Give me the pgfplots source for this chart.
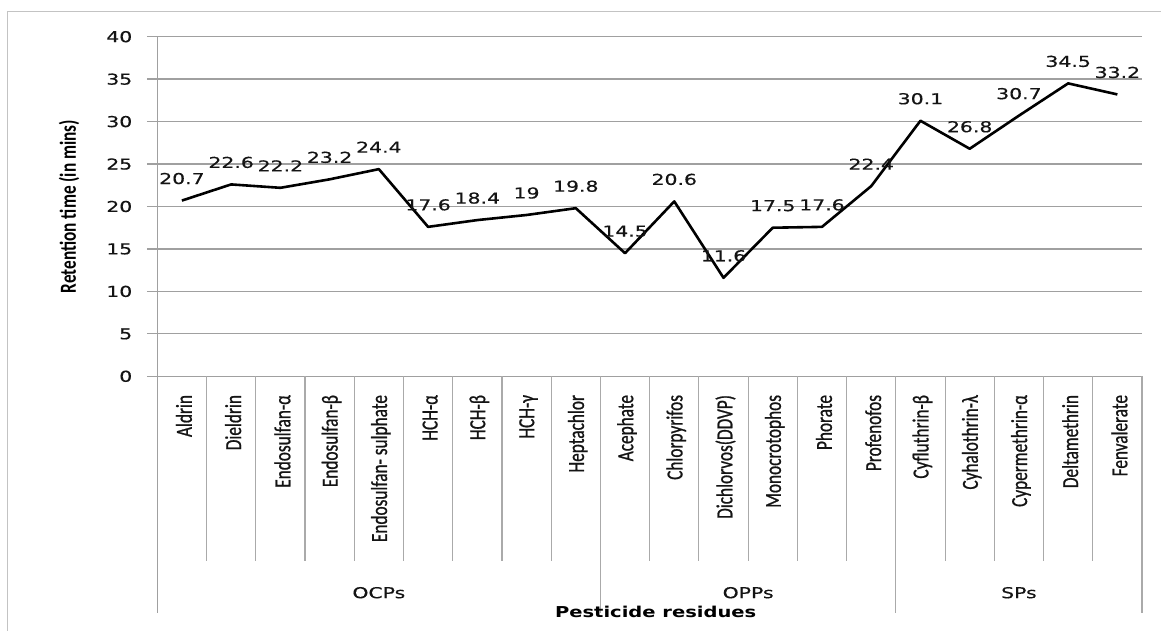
\documentclass[border=0pt]{standalone}
\usepackage{fontspec}
\usepackage{pgfplots}
\usepackage{pgfplotstable}
\pgfplotsset{compat=1.18}
\newfontfamily\widefont[FakeStretch=1.36,FakeBold=0.4]{DejaVu Sans}
\newfontfamily\widebold[FakeStretch=1.3]{DejaVu Sans Bold}
\newfontfamily\narrowfont[FakeStretch=0.75,FakeBold=0.8]{Carlito}
\newfontfamily\narrowbold[FakeStretch=0.75]{Carlito Bold}
\newcommand\tickf{\widefont\fontsize{15pt}{18pt}\selectfont}
\newcommand\titf{\widebold\fontsize{15pt}{18pt}\selectfont}
\newcommand\catf{\narrowfont\fontsize{23pt}{26pt}\selectfont}
\newcommand\ytitf{\narrowbold\fontsize{23pt}{26pt}\selectfont}
\definecolor{gridgray}{RGB}{160,160,160}
\definecolor{sepgray}{RGB}{170,170,170}
\definecolor{bordergray}{RGB}{195,195,195}
\definecolor{txt}{RGB}{20,20,20}

\pgfplotstableread{
x y
0.5 20.7
1.5 22.6
2.5 22.2
3.5 23.2
4.5 24.4
5.5 17.6
6.5 18.4
7.5 19
8.5 19.8
9.5 14.5
10.5 20.6
11.5 11.6
12.5 17.5
13.5 17.6
14.5 22.4
15.5 30.1
16.5 26.8
17.5 30.7
18.5 34.5
19.5 33.2
}\datatable

\begin{document}
\begin{tikzpicture}
\path[use as bounding box] (0,0) rectangle (1161pt,631pt);
% outer frame (left and top edges visible)
\draw[bordergray, line width=1.5pt] (7.7pt,0) -- (7.7pt,619.3pt) -- (1165pt,619.3pt);
\begin{axis}[
  at={(157.3pt,254.7pt)}, anchor=south west, scale only axis,
  width=984.7pt, height=339.6pt,
  xmin=0, xmax=20, ymin=0, ymax=40,
  axis line style={draw=none},
  clip=false,
  xtick=\empty,
  ytick={0,5,...,40},
  ytick pos=left,
  tick align=outside,
  major tick length=10.5pt,
  ytick style={color=gridgray, line width=1.3pt},
  ymajorgrids,
  grid style={color=gridgray, line width=1.3pt},
  yticklabel style={font=\tickf, text=txt, xshift=-11pt},
  /pgf/number format/assume math mode=true,
  nodes near coords,
  every node near coord/.append style={font=\tickf, text=txt, anchor=center, yshift=22pt, inner sep=0pt},
]
\addplot[black, line width=2.6pt, line join=round, mark=none] table[x=x,y=y] {\datatable};

% left axis line and separators
\draw[gridgray, line width=1.3pt] (axis cs:0,40) -- (axis cs:0,0) -- ++(0,-236.7pt);
\foreach \i in {1,2,3,4,5,6,7,8,10,11,12,13,14,16,17,18,19}{
  \edef\tmp{\noexpand\draw[sepgray, line width=1.1pt] (axis cs:\i,0) -- ++(0,-184.7pt);}\tmp
}
\draw[sepgray, line width=1.1pt] (axis cs:9,0) -- ++(0,-236.7pt);
\draw[sepgray, line width=1.1pt] (axis cs:15,0) -- ++(0,-236.7pt);
\draw[sepgray, line width=1.1pt] (axis cs:20,0) -- ++(0,-236.7pt);

% category labels
\node[yshift=-18.5pt, xshift=2pt, rotate=90, anchor=east, inner sep=0pt, font=\catf, text=txt] at (axis cs:0.5,0) {Aldrin};
\node[yshift=-18.5pt, xshift=2pt, rotate=90, anchor=east, inner sep=0pt, font=\catf, text=txt] at (axis cs:1.5,0) {Dieldrin};
\node[yshift=-18.5pt, xshift=2pt, rotate=90, anchor=east, inner sep=0pt, font=\catf, text=txt] at (axis cs:2.5,0) {Endosulfan-α};
\node[yshift=-18.5pt, xshift=2pt, rotate=90, anchor=east, inner sep=0pt, font=\catf, text=txt] at (axis cs:3.5,0) {Endosulfan-β};
\node[yshift=-18.5pt, xshift=2pt, rotate=90, anchor=east, inner sep=0pt, font=\catf, text=txt] at (axis cs:4.5,0) {Endosulfan- sulphate};
\node[yshift=-18.5pt, xshift=2pt, rotate=90, anchor=east, inner sep=0pt, font=\catf, text=txt] at (axis cs:5.5,0) {HCH-α};
\node[yshift=-18.5pt, xshift=2pt, rotate=90, anchor=east, inner sep=0pt, font=\catf, text=txt] at (axis cs:6.5,0) {HCH-β};
\node[yshift=-18.5pt, xshift=2pt, rotate=90, anchor=east, inner sep=0pt, font=\catf, text=txt] at (axis cs:7.5,0) {HCH-γ};
\node[yshift=-18.5pt, xshift=2pt, rotate=90, anchor=east, inner sep=0pt, font=\catf, text=txt] at (axis cs:8.5,0) {Heptachlor};
\node[yshift=-18.5pt, xshift=2pt, rotate=90, anchor=east, inner sep=0pt, font=\catf, text=txt] at (axis cs:9.5,0) {Acephate};
\node[yshift=-18.5pt, xshift=2pt, rotate=90, anchor=east, inner sep=0pt, font=\catf, text=txt] at (axis cs:10.5,0) {Chlorpyrifos};
\node[yshift=-18.5pt, xshift=2pt, rotate=90, anchor=east, inner sep=0pt, font=\catf, text=txt] at (axis cs:11.5,0) {Dichlorvos(DDVP)};
\node[yshift=-18.5pt, xshift=2pt, rotate=90, anchor=east, inner sep=0pt, font=\catf, text=txt] at (axis cs:12.5,0) {Monocrotophos};
\node[yshift=-18.5pt, xshift=2pt, rotate=90, anchor=east, inner sep=0pt, font=\catf, text=txt] at (axis cs:13.5,0) {Phorate};
\node[yshift=-18.5pt, xshift=2pt, rotate=90, anchor=east, inner sep=0pt, font=\catf, text=txt] at (axis cs:14.5,0) {Profenofos};
\node[yshift=-18.5pt, xshift=2pt, rotate=90, anchor=east, inner sep=0pt, font=\catf, text=txt] at (axis cs:15.5,0) {Cyfluthrin-β};
\node[yshift=-18.5pt, xshift=2pt, rotate=90, anchor=east, inner sep=0pt, font=\catf, text=txt] at (axis cs:16.5,0) {Cyhalothrin-λ};
\node[yshift=-18.5pt, xshift=2pt, rotate=90, anchor=east, inner sep=0pt, font=\catf, text=txt] at (axis cs:17.5,0) {Cypermethrin-α};
\node[yshift=-18.5pt, xshift=2pt, rotate=90, anchor=east, inner sep=0pt, font=\catf, text=txt] at (axis cs:18.5,0) {Deltamethrin};
\node[yshift=-18.5pt, xshift=2pt, rotate=90, anchor=east, inner sep=0pt, font=\catf, text=txt] at (axis cs:19.5,0) {Fenvalerate};

% group labels
\node[yshift=-216.4pt, inner sep=0pt, font=\tickf, text=txt] at (axis cs:4.5,0) {OCPs};
\node[yshift=-216.4pt, inner sep=0pt, font=\tickf, text=txt] at (axis cs:12,0) {OPPs};
\node[yshift=-216.4pt, inner sep=0pt, font=\tickf, text=txt] at (axis cs:17.5,0) {SPs};

% axis titles
\node[yshift=-235.2pt, xshift=6pt, inner sep=0pt, font=\titf, text=black] at (axis cs:10,0) {Pesticide residues};
\node[xshift=-88.3pt, rotate=90, inner sep=0pt, font=\ytitf, text=black] at (axis cs:0,20) {Retention time (in mins)};
\end{axis}
\end{tikzpicture}
\end{document}
